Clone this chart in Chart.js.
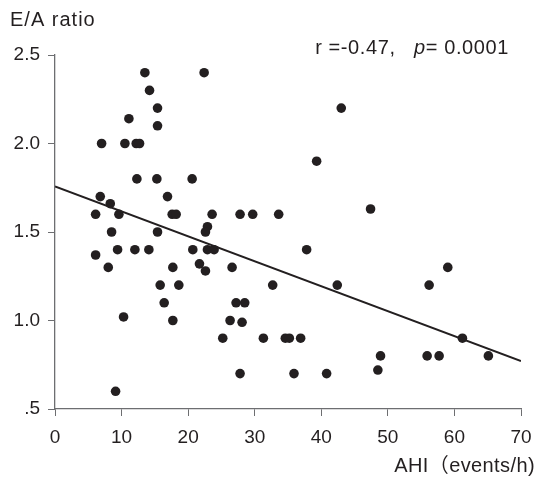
<!DOCTYPE html>
<html lang="en">
<head>
<meta charset="UTF-8">
<title>E/A ratio vs AHI</title>
<script src="https://cdn.jsdelivr.net/npm/chart.js"></script>
<style>
  html, body { margin: 0; padding: 0; background: #fff; }
  #wrap { width: 538px; height: 482px; position: relative; }
</style>
</head>
<body>
<div id="wrap"><canvas id="scatterChart"></canvas></div>
<script>
// AHI (events/h) and E/A ratio for each patient
const ahi = [
  13.5, 22.4, 14.2, 15.4, 11.1, 15.4, 7.0, 10.5, 12.2, 12.7,
  12.3, 15.3, 20.6, 6.8, 8.3, 6.1, 9.6, 16.9, 17.6, 18.2,
  23.6, 8.5, 15.4, 22.9, 22.6, 43.0, 39.3, 27.8, 29.7, 33.6,
  47.4, 6.1, 9.4, 12.0, 14.1, 20.7, 22.9, 23.9, 8.0, 17.7,
  21.7, 22.6, 15.8, 18.6, 16.4, 10.3, 17.7, 9.1, 37.8, 26.6,
  32.7, 42.4, 27.2, 28.5, 26.3, 28.1, 25.2, 31.3, 34.6, 35.2,
  36.9, 27.8, 35.9, 40.8, 59.0, 56.2, 61.2, 48.9, 48.5, 55.9,
  57.7, 65.1
];
const eaRatio = [
  2.40, 2.40, 2.30, 2.20, 2.14, 2.10, 2.00, 2.00, 2.00, 2.00,
  1.80, 1.80, 1.80, 1.70, 1.66, 1.60, 1.60, 1.70, 1.60, 1.60,
  1.60, 1.50, 1.50, 1.53, 1.50, 2.20, 1.90, 1.60, 1.60, 1.60,
  1.63, 1.37, 1.40, 1.40, 1.40, 1.40, 1.40, 1.40, 1.30, 1.30,
  1.32, 1.28, 1.20, 1.20, 1.10, 1.02, 1.00, 0.60, 1.40, 1.30,
  1.20, 1.20, 1.10, 1.10, 1.00, 0.99, 0.90, 0.90, 0.90, 0.90,
  0.90, 0.70, 0.70, 0.70, 1.30, 1.20, 0.90, 0.80, 0.72, 0.80,
  0.80, 0.80
];

// regression line end points
const fitX = [0, 70];
const fitY = [1.757, 0.771];

const xTicks = [0, 10, 20, 30, 40, 50, 60, 70];
const yTicks = [0.5, 1.0, 1.5, 2.0, 2.5];
const yTickLabels = ['.5', '1.0', '1.5', '2.0', '2.5'];

const ink = '#231f20';
const axisGray = '#6d6e71';
const fontFamily = '"Liberation Sans", Arial, "Noto Sans CJK JP", sans-serif';

const textLayer = {
  id: 'textLayer',
  afterDraw(chart) {
    const c = chart.ctx;
    c.save();
    c.fillStyle = ink;
    c.textBaseline = 'middle';
    c.letterSpacing = '1px';
    c.font = '20px ' + fontFamily;
    c.textAlign = 'left';
    c.fillText('E/A ratio', 10, 20);

    // r / p annotation, right aligned
    c.letterSpacing = '0.6px';
    const parts = [
      { t: 'r =-0.47,   ', f: '20px ' + fontFamily },
      { t: 'p', f: 'italic 20px ' + fontFamily },
      { t: '= 0.0001', f: '20px ' + fontFamily }
    ];
    let total = 0;
    parts.forEach(p => { c.font = p.f; total += c.measureText(p.t).width; });
    let x = 509 - total;
    parts.forEach(p => { c.font = p.f; c.fillText(p.t, x, 48); x += c.measureText(p.t).width; });

    c.font = '20px ' + fontFamily;
    c.letterSpacing = '0.4px';
    c.textAlign = 'right';
    c.fillText('AHI（events/h)', 535, 466);
    c.letterSpacing = '0px';
    c.restore();
  }
};

new Chart(document.getElementById('scatterChart'), {
  type: 'scatter',
  data: {
    datasets: [
      {
        type: 'line',
        data: fitX.map((x, i) => ({ x, y: fitY[i] })),
        borderColor: ink,
        borderWidth: 2,
        pointRadius: 0,
        fill: false
      },
      {
        data: ahi.map((x, i) => ({ x, y: eaRatio[i] })),
        backgroundColor: ink,
        borderWidth: 0,
        pointRadius: 4.8
      }
    ]
  },
  options: {
    responsive: true,
    maintainAspectRatio: false,
    animation: false,
    layout: { padding: { top: 55, right: 17, left: 0, bottom: 0 } },
    plugins: { legend: { display: false }, tooltip: { enabled: false } },
    scales: {
      x: {
        type: 'linear',
        min: 0, max: 70,
        afterBuildTicks: s => { s.ticks = xTicks.map(v => ({ value: v })); },
        afterFit: s => { s.height = 73; s.paddingRight = 0; s.paddingLeft = 0; },
        grid: { drawOnChartArea: false, drawTicks: true, tickLength: 7, color: axisGray },
        border: { color: axisGray, width: 1.3 },
        ticks: { color: ink, font: { family: fontFamily, size: 19 }, padding: 10, maxRotation: 0 }
      },
      y: {
        type: 'linear',
        min: 0.5, max: 2.5,
        afterBuildTicks: s => { s.ticks = yTicks.map(v => ({ value: v })); },
        afterFit: s => { s.width = 55; },
        grid: { drawOnChartArea: false, drawTicks: true, tickLength: 7, color: axisGray },
        border: { color: axisGray, width: 1.3 },
        ticks: {
          color: ink,
          font: { family: fontFamily, size: 19 },
          padding: 8,
          callback: (v) => yTickLabels[yTicks.indexOf(v)]
        }
      }
    }
  },
  plugins: [textLayer]
});
</script>
</body>
</html>
